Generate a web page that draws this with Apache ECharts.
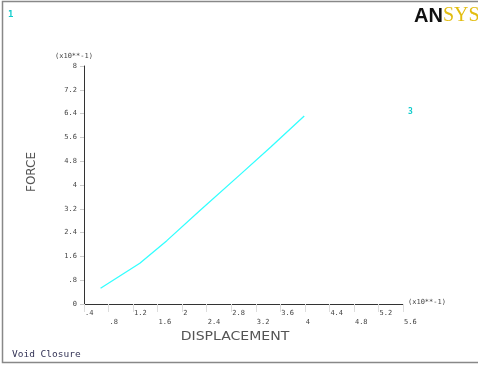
<!DOCTYPE html>
<html>
<head>
<meta charset="utf-8">
<script src="https://cdn.jsdelivr.net/npm/echarts@6/dist/echarts.min.js"></script>
<style>
  html, body { margin: 0; padding: 0; background: #fff; }
  #chart { width: 478px; height: 365px; }
</style>
</head>
<body>
<div id="chart"></div>
<script>
// Load–displacement curve (both axes scaled by 10**-1)
const displacement = [0.67, 1.31, 1.75, 2.29, 2.94, 3.44, 3.99];
const force = [0.53, 1.37, 2.13, 3.14, 4.34, 5.27, 6.32];

const xAxisMin = 0.4, xAxisMax = 5.6, xStep = 0.4;
const yAxisMin = 0, yAxisMax = 8, yStep = 0.8;

const xTitle = 'DISPLACEMENT';
const yTitle = 'FORCE';
const scaleNote = '(x10**-1)';
const plotTitle = 'Void Closure';

// ANSYS style tick text: one decimal, no leading zero
function tickText(v) {
  let s = (Math.round(v * 10) / 10).toFixed(1);
  if (s.endsWith('.0')) s = s.slice(0, -2);
  if (s.startsWith('0.')) s = s.slice(1);
  return s;
}

const points = displacement.map((d, i) => [d, force[i]]);

const chart = echarts.init(document.getElementById('chart'), null, { renderer: 'canvas' });

const tickFont = { fontFamily: 'DejaVu Sans Mono', fontSize: 7, color: '#444' };

chart.setOption({
  backgroundColor: '#fff',
  animation: false,
  grid: { left: 84, top: 66, right: 75, bottom: 61, containLabel: false },
  xAxis: {
    type: 'value',
    min: xAxisMin, max: xAxisMax, interval: xStep,
    axisLine: { show: true, lineStyle: { color: '#333', width: 1 } },
    axisTick: { show: true, length: 8, lineStyle: { color: '#ddd' } },
    splitLine: { show: false },
    axisLabel: Object.assign({}, tickFont, {
      margin: 5,
      align: 'left',
      lineHeight: 9,
      padding: [0, 0, 0, 1],
      showMinLabel: true, showMaxLabel: true,
      hideOverlap: false,
      formatter: function (v) {
        // alternate labels drop to a second row
        const i = Math.round((v - xAxisMin) / xStep);
        const t = tickText(v);
        return i % 2 === 0 ? t : '\n' + t;
      }
    })
  },
  yAxis: {
    type: 'value',
    min: yAxisMin, max: yAxisMax, interval: yStep,
    axisLine: { show: true, lineStyle: { color: '#333', width: 1 } },
    axisTick: { show: true, length: 4, lineStyle: { color: '#ccc' } },
    splitLine: { show: false },
    axisLabel: Object.assign({}, tickFont, {
      margin: 7,
      showMinLabel: true, showMaxLabel: true,
      formatter: function (v) { return tickText(v); }
    })
  },
  series: [{
    type: 'line',
    data: points,
    showSymbol: false,
    smooth: false,
    lineStyle: { color: '#3ff', width: 1.3 },
    z: 5
  }],
  graphic: [
    { // window frame
      type: 'rect', silent: true,
      shape: { x: 2.5, y: 1.5, width: 480, height: 361 },
      style: { fill: 'none', stroke: '#888', lineWidth: 1.5 }
    },
    {
      type: 'text', left: 8, top: 10,
      style: { text: '1', font: 'bold 9px "DejaVu Sans Mono"', fill: '#1cc' }
    },
    {
      type: 'text', left: 408, top: 108,
      style: { text: '3', font: 'bold 8px "DejaVu Sans Mono"', fill: '#1cc' }
    },
    {
      type: 'text', left: 414, top: 6,
      style: {
        text: '{a|AN}{b|SYS}',
        rich: {
          a: { font: '900 20px "Liberation Sans"', fill: '#111' },
          b: { font: '20px "Liberation Serif"', fill: '#e2bd10' }
        }
      }
    },
    {
      type: 'text', left: 55, top: 53,
      style: { text: scaleNote, font: '7px "DejaVu Sans Mono"', fill: '#444' }
    },
    {
      type: 'text', left: 408, top: 299,
      style: { text: scaleNote, font: '7px "DejaVu Sans Mono"', fill: '#444' }
    },
    {
      type: 'text', x: 235, y: 337,
      style: {
        text: xTitle, font: '12px "DejaVu Sans"', fill: '#555',
        align: 'center', verticalAlign: 'middle'
      },
      scaleX: 1.17
    },
    {
      type: 'text', x: 32, y: 172, rotation: Math.PI / 2,
      style: {
        text: yTitle, font: '12px "DejaVu Sans"', fill: '#555',
        align: 'center', verticalAlign: 'middle'
      }
    },
    {
      type: 'text', left: 12, top: 350,
      style: { text: plotTitle, font: '9.5px "DejaVu Sans Mono"', fill: '#335' }
    }
  ]
});
</script>
</body>
</html>
